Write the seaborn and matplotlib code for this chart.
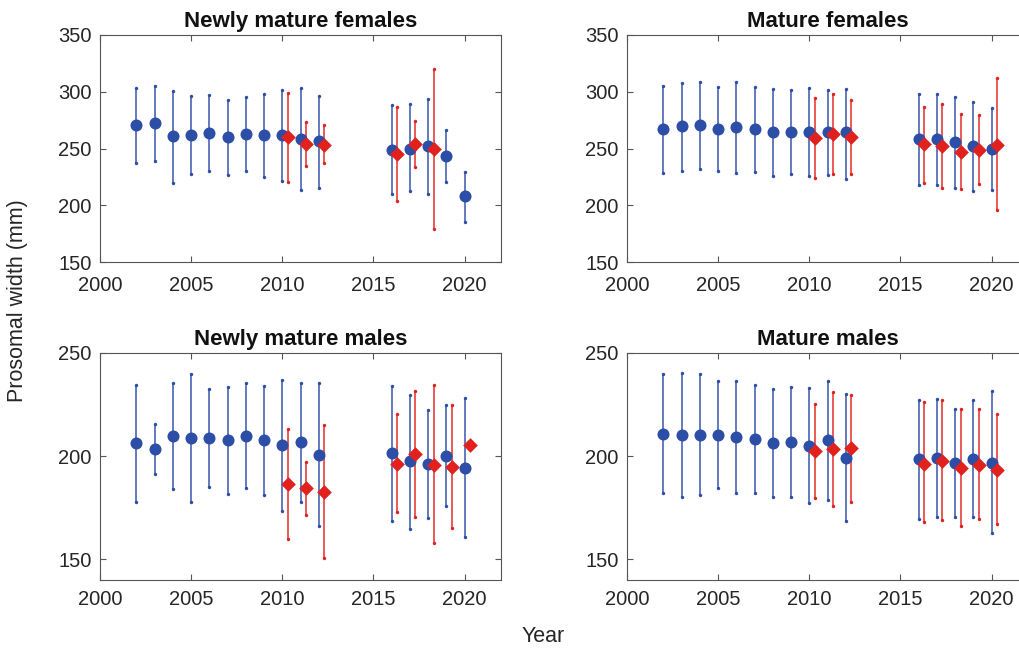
import numpy as np
import pandas as pd
import matplotlib
matplotlib.use("Agg")
import matplotlib.pyplot as plt
import seaborn as sns

# ----------------------------------------------------------------------------
# Data
# ----------------------------------------------------------------------------

years_blue = [2002, 2003, 2004, 2005, 2006, 2007, 2008, 2009, 2010, 2011, 2012,
              2016, 2017, 2018, 2019, 2020]
years_red_6 = [2010, 2011, 2012, 2016, 2017, 2018]
years_red_8 = [2010, 2011, 2012, 2016, 2017, 2018, 2019, 2020]

# Newly mature females
nmf_blue_mean = [270.6, 272.6, 260.6, 262.0, 263.8, 260.0, 262.6, 262.0, 261.5, 258.5, 256.5,
                 248.8, 250.0, 252.0, 243.5, 208.0]
nmf_blue_hi = [302.9, 305.3, 300.6, 296.2, 297.0, 292.9, 295.0, 298.2, 301.2, 303.5, 296.5,
               288.0, 288.8, 294.0, 266.5, 229.4]
nmf_blue_lo = [237.4, 239.4, 220.0, 227.6, 230.3, 226.5, 230.6, 225.0, 221.5, 213.0, 215.6,
               210.0, 212.4, 209.7, 220.3, 185.3]
nmf_red_mean = [259.7, 254.1, 253.5, 245.3, 253.8, 250.0]
nmf_red_hi = [298.8, 273.5, 270.9, 287.0, 273.8, 320.3]
nmf_red_lo = [220.6, 235.0, 236.8, 204.1, 233.8, 179.1]

# Mature females
mf_blue_mean = [267.4, 269.4, 270.6, 267.6, 268.8, 267.4, 264.4, 264.7, 264.7, 264.4, 264.1,
                258.0, 258.5, 255.3, 252.0, 249.4]
mf_blue_hi = [305.0, 307.6, 308.2, 304.4, 308.5, 304.4, 302.6, 301.8, 302.9, 301.5, 302.6,
              298.0, 297.6, 295.3, 291.2, 285.6]
mf_blue_lo = [228.8, 230.3, 232.0, 230.0, 228.5, 229.4, 225.9, 227.9, 226.2, 226.5, 223.5,
              218.0, 218.2, 215.3, 212.6, 213.2]
mf_red_mean = [259.1, 262.6, 260.0, 254.1, 252.0, 247.0, 249.1, 253.5]
mf_red_hi = [294.1, 297.6, 292.6, 287.0, 289.1, 280.0, 279.7, 312.4]
mf_red_lo = [224.4, 227.6, 227.6, 220.0, 215.3, 214.1, 218.5, 195.6]

# Newly mature males
nmm_blue_mean = [206.2, 203.3, 209.6, 208.8, 209.0, 207.8, 209.9, 207.8, 205.4, 206.7, 200.8,
                 201.3, 197.6, 196.3, 200.2, 194.5]
nmm_blue_hi = [234.5, 215.5, 235.5, 239.6, 232.7, 233.6, 235.3, 234.2, 237.0, 235.5, 235.3,
               234.0, 229.8, 222.5, 224.8, 228.0]
nmm_blue_lo = [177.9, 191.4, 183.9, 177.7, 184.9, 181.9, 184.4, 181.4, 173.6, 177.9, 166.1,
               168.6, 164.5, 169.9, 175.9, 160.9]
nmm_red_mean = [186.3, 184.5, 182.7, 196.3, 201.0, 195.9, 194.8, 205.2]
nmm_red_hi = [213.2, 197.4, 215.0, 220.5, 231.6, 234.5, 224.6, 205.2]
nmm_red_lo = [159.8, 171.7, 150.7, 172.8, 170.5, 157.8, 165.3, 205.2]

# Mature males
mm_blue_mean = [210.9, 210.4, 210.4, 210.4, 209.1, 208.5, 206.4, 206.7, 205.0, 208.0, 199.2,
                198.5, 199.0, 196.6, 198.7, 196.9]
mm_blue_hi = [239.6, 240.4, 239.6, 236.5, 236.2, 234.4, 232.4, 233.4, 232.9, 236.5, 230.1,
              227.4, 227.7, 222.8, 227.0, 231.4]
mm_blue_lo = [182.4, 180.3, 181.4, 184.5, 182.2, 182.4, 180.3, 180.3, 177.2, 179.0, 168.4,
              169.7, 170.7, 170.7, 170.5, 162.7]
mm_red_mean = [202.3, 203.4, 203.9, 196.4, 197.7, 194.3, 195.9, 193.5]
mm_red_hi = [225.4, 231.1, 229.6, 226.2, 227.2, 223.0, 222.8, 220.4]
mm_red_lo = [179.8, 176.1, 178.0, 168.1, 168.9, 166.1, 169.5, 167.1]

panel_titles = ["Newly mature females", "Mature females",
                "Newly mature males", "Mature males"]

# ----------------------------------------------------------------------------
# Style
# ----------------------------------------------------------------------------

sns.set_theme(style="white")
plt.rcParams["font.family"] = ["Liberation Sans", "DejaVu Sans"]

BLUE = "#2d4ea6"
RED = "#e1211d"
TEXT = "#262626"
RED_OFFSET = 0.3

fig = plt.figure(figsize=(10.19, 6.5), dpi=100)

W, H = 1019, 650
# axes boxes in pixels: left, top, right, bottom
boxes = [(100, 35, 501, 262), (627, 35, 1028, 262),
         (100, 353, 501, 580), (627, 353, 1028, 580)]

panels = [
    (years_blue, nmf_blue_mean, nmf_blue_lo, nmf_blue_hi,
     years_red_6, nmf_red_mean, nmf_red_lo, nmf_red_hi),
    (years_blue, mf_blue_mean, mf_blue_lo, mf_blue_hi,
     years_red_8, mf_red_mean, mf_red_lo, mf_red_hi),
    (years_blue, nmm_blue_mean, nmm_blue_lo, nmm_blue_hi,
     years_red_8, nmm_red_mean, nmm_red_lo, nmm_red_hi),
    (years_blue, mm_blue_mean, mm_blue_lo, mm_blue_hi,
     years_red_8, mm_red_mean, mm_red_lo, mm_red_hi),
]


def draw_series(ax, x, mean, lo, hi, color, marker, size):
    x = np.asarray(x, dtype=float)
    ax.vlines(x, lo, hi, color=color, linewidth=1.3, alpha=0.8, zorder=2)
    ends = pd.DataFrame({"x": np.concatenate([x, x]),
                         "y": np.concatenate([lo, hi])})
    sns.scatterplot(data=ends, x="x", y="y", ax=ax, color=color, marker="o",
                    s=6, linewidth=0, zorder=3)
    df = pd.DataFrame({"x": x, "y": mean})
    sns.scatterplot(data=df, x="x", y="y", ax=ax, color=color, marker=marker,
                    s=size, linewidth=0, zorder=4)


for i, (box, data, title) in enumerate(zip(boxes, panels, panel_titles)):
    l, t, r, b = box
    ax = fig.add_axes([l / W, 1 - b / H, (r - l) / W, (b - t) / H])

    yb, bm, blo, bhi, yr, rm, rlo, rhi = data
    draw_series(ax, yb, bm, blo, bhi, BLUE, "o", 75)
    draw_series(ax, np.asarray(yr) + RED_OFFSET, rm, rlo, rhi, RED, "D", 56)

    ax.set_xlim(2000, 2022)
    ax.set_xticks([2000, 2005, 2010, 2015, 2020])
    if i < 2:
        ax.set_ylim(150, 350)
        ax.set_yticks([150, 200, 250, 300, 350])
        xpad = 10
    else:
        ax.set_ylim(140, 250)
        ax.set_yticks([150, 200, 250])
        xpad = 7

    ax.set_xlabel("")
    ax.set_ylabel("")
    ax.set_title(title, fontsize=16, fontweight="bold", color="#111111", pad=6)

    for side in ["left", "right", "top", "bottom"]:
        ax.spines[side].set_visible(True)
        ax.spines[side].set_color("#555555")
        ax.spines[side].set_linewidth(0.8)

    ax.tick_params(axis="both", direction="in", length=4, width=0.8,
                   colors="#555555", labelcolor=TEXT, labelsize=14.5,
                   top=True, right=True, bottom=True, left=True)
    ax.tick_params(axis="x", pad=xpad)
    ax.tick_params(axis="y", pad=6)

fig.text(18 / W, 0.538, "Prosomal width (mm)", rotation=90, fontsize=15.5,
         color=TEXT, ha="center", va="center")
fig.text(543 / W, 0.02, "Year", fontsize=15.5, color=TEXT,
         ha="center", va="center")

fig.savefig("out.png", dpi=100)
